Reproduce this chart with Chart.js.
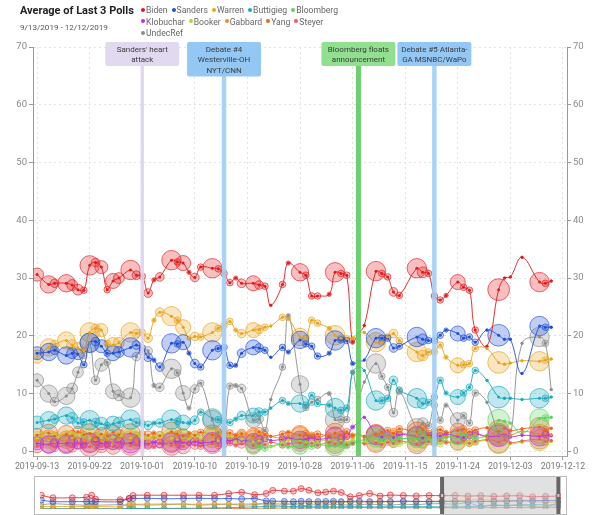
<!DOCTYPE html>
<html>
<head>
<meta charset="utf-8">
<title>Average of Last 3 Polls</title>
<script src="https://cdn.jsdelivr.net/npm/chart.js@4.4.1/dist/chart.umd.min.js"></script>
<style>
  body { margin: 0; background: #fff; font-family: Roboto, 'Noto Sans', sans-serif; }
  #wrap { position: relative; width: 600px; height: 515px; overflow: hidden; }
  #main { position: absolute; left: 0; top: 0; }
  #title { position: absolute; left: 20px; top: 4px; font-size: 11px; line-height: 14px; font-weight: 700; color: #222; }
  #sub { position: absolute; left: 20px; top: 22px; font-size: 8.1px; line-height: 11px; color: #555; }
  #legend { position: absolute; left: 141px; top: 5px; font-size: 8.6px; color: #666; line-height: 11.5px; }
  .item { display: inline-block; margin-right: 4px; white-space: nowrap; }
  .dot { display: inline-block; width: 4px; height: 4px; border-radius: 50%; margin-right: 1px; vertical-align: middle; position: relative; top: -1px; }
  #navBox { position: absolute; left: 34px; top: 476px; width: 531px; height: 37px; border: 1px solid #bbb; }
</style>
</head>
<body>
<div id="wrap">
  <canvas id="main" width="600" height="472"></canvas>
  <div id="title">Average of Last 3 Polls</div>
  <div id="sub">9/13/2019 - 12/12/2019</div>
  <div id="legend"></div>
  <div id="navBox"><canvas id="nav" width="531" height="37"></canvas></div>
</div>
<script>
// poll dates (one point per poll) and poll sample sizes
const pollDates = [
  '2019-09-13','2019-09-15','2019-09-16','2019-09-18','2019-09-19','2019-09-20','2019-09-21','2019-09-22','2019-09-23','2019-09-24',
  '2019-09-25','2019-09-26','2019-09-27','2019-09-29','2019-09-30','2019-10-01','2019-10-02','2019-10-03','2019-10-04','2019-10-06',
  '2019-10-07','2019-10-08','2019-10-09','2019-10-10','2019-10-11','2019-10-13','2019-10-14','2019-10-15','2019-10-16','2019-10-17',
  '2019-10-18','2019-10-20','2019-10-21','2019-10-22','2019-10-23','2019-10-25','2019-10-26','2019-10-28','2019-10-29','2019-10-30',
  '2019-10-31','2019-11-02','2019-11-03','2019-11-04','2019-11-05','2019-11-06','2019-11-07','2019-11-08','2019-11-10','2019-11-11',
  '2019-11-12','2019-11-13','2019-11-14','2019-11-17','2019-11-18','2019-11-19','2019-11-20','2019-11-21','2019-11-22','2019-11-24',
  '2019-11-25','2019-11-26','2019-11-27','2019-11-29','2019-12-01','2019-12-02','2019-12-03','2019-12-05','2019-12-08','2019-12-09',
  '2019-12-10'
];
const pollSize = [
  900,1600,400,1600,620,620,230,2000,400,900,
  230,1200,620,2000,400,230,400,100,400,2000,
  230,1200,100,400,230,2000,230,230,230,100,
  400,1200,400,230,30,230,100,1600,230,230,
  230,100,2000,230,230,100,30,30,2000,230,
  230,400,230,2000,620,230,230,230,100,1200,
  230,230,230,30,2500,30,30,30,2000,230,
  30
];

const biden = [
  30.6,28.9,29.1,29.1,28.8,28.0,27.9,32.2,32.7,31.9,
  28.0,29.5,30.0,31.4,30.5,30.3,27.4,29.7,30.2,33.1,
  32.8,32.6,31.0,30.1,31.9,31.7,31.6,30.8,29.2,30.0,
  29.1,29.1,28.8,28.6,25.3,28.9,32.6,31.0,30.5,26.9,
  26.9,27.2,31.0,30.8,30.5,18.9,20.4,21.8,31.2,30.8,
  30.2,27.6,27.0,31.7,31.0,30.8,26.9,26.2,27.0,29.3,
  28.4,27.9,21.0,18.2,28.0,30.0,30.2,33.6,29.3,29.1,
  29.5
];
const sanders = [
  17.0,17.2,17.5,16.6,17.0,16.8,15.0,18.8,19.0,18.2,
  17.0,17.0,17.2,18.0,18.4,17.9,16.3,15.8,14.6,18.7,
  18.6,18.9,17.0,15.2,14.6,17.5,17.8,18.0,14.9,14.9,
  17.0,18.0,17.9,17.5,16.3,18.0,17.2,19.3,18.6,18.2,
  16.5,17.0,19.2,19.3,19.2,15.2,15.6,15.8,19.6,19.6,
  19.6,17.9,18.2,19.8,19.4,19.2,19.2,20.1,21.0,20.4,
  19.6,19.8,18.9,21.0,20.1,19.4,19.4,13.5,21.7,21.5,
  21.5
];
const warren = [
  16.4,18.0,18.5,19.2,18.4,17.9,17.5,20.6,21.3,21.0,
  18.7,18.4,18.8,20.6,20.4,20.6,19.6,22.7,24.1,23.4,
  22.7,21.5,19.6,19.9,19.8,20.6,21.3,21.8,22.5,21.0,
  20.4,21.0,21.1,21.5,21.7,23.2,23.0,19.8,19.6,22.7,
  22.2,21.3,20.1,19.6,19.5,19.6,20.4,20.6,18.9,18.9,
  19.8,20.4,19.2,17.2,16.6,17.2,17.2,18.4,16.3,14.9,
  15.0,15.2,17.8,17.8,15.4,15.1,15.3,15.7,15.6,15.8,
  16.0
];
const buttigieg = [
  5.0,5.4,5.6,6.2,5.8,4.9,5.1,5.4,5.0,4.8,
  4.5,4.8,5.0,5.5,5.0,4.8,4.5,4.9,4.9,5.5,
  5.2,5.0,4.9,5.4,6.8,5.7,5.5,5.2,5.0,5.6,
  6.2,6.2,6.8,6.8,7.5,8.8,8.3,8.3,8.0,9.7,
  8.3,8.0,7.5,7.1,7.5,13.7,14.6,14.0,8.8,8.8,
  9.2,12.3,10.6,9.2,8.3,8.5,9.4,12.3,10.1,9.4,
  10.1,11.1,14.0,12.3,9.4,9.2,9.2,9.0,9.2,9.2,
  9.4
];
const bloomberg = [
  null,null,null,null,null,null,null,null,null,null,
  null,null,null,null,null,null,null,null,null,null,
  null,null,null,null,null,null,null,null,null,null,
  null,0.8,1.0,0.6,0.9,1.2,0.8,1.0,1.3,0.9,
  1.1,1.0,0.9,1.2,1.0,1.4,1.8,2.0,2.4,2.1,
  2.6,1.9,2.2,2.3,2.8,2.1,1.7,2.2,2.5,2.4,
  2.9,2.6,2.3,2.8,5.4,5.2,4.9,3.1,5.7,5.8,
  5.9
];
const klobuchar = [
  1.4,1.2,1.5,1.3,1.6,1.4,1.2,1.5,1.8,1.4,
  1.3,1.6,1.5,1.4,1.7,1.5,1.3,1.6,1.4,1.5,
  1.8,1.6,1.4,1.7,1.5,1.6,1.9,2.0,1.8,2.1,
  1.9,1.8,2.0,2.2,1.9,2.1,2.3,2.0,2.2,2.4,
  2.1,2.3,2.5,2.2,2.6,4.2,5.0,5.9,2.8,2.5,
  2.7,2.4,2.9,2.6,2.3,2.8,2.5,2.7,3.0,2.6,
  2.4,2.8,3.1,2.6,2.7,3.0,2.5,2.8,2.6,2.9,
  2.7
];
const booker = [
  2.3,2.0,2.5,2.1,2.4,2.2,2.6,2.3,2.0,2.4,
  2.2,2.5,2.1,2.3,2.6,2.2,2.0,2.4,2.7,2.3,
  2.1,2.4,2.2,2.5,2.0,2.3,1.9,2.2,2.4,1.8,
  2.1,1.7,1.9,2.2,0.8,1.6,2.0,1.8,1.5,1.9,
  1.7,2.0,1.6,1.8,1.5,1.9,1.7,1.6,1.8,1.5,
  1.9,1.6,1.4,1.7,1.5,1.8,1.6,1.3,1.7,1.5,
  1.8,1.4,1.6,1.9,1.5,1.7,1.3,1.6,1.8,1.5,
  1.7
];
const gabbard = [
  1.8,2.2,1.6,2.0,1.7,2.3,1.9,1.5,2.1,1.8,
  2.0,1.6,2.2,1.9,1.7,2.1,1.8,2.4,2.0,1.7,
  2.3,1.9,2.6,2.1,1.8,2.4,2.2,2.7,2.3,2.5,
  2.8,2.4,2.2,2.9,2.6,2.3,2.7,3.0,2.5,2.8,
  2.4,2.9,2.6,2.3,2.7,2.5,2.9,2.4,2.8,3.1,
  2.6,2.9,3.2,2.7,3.0,2.5,2.8,3.1,2.6,2.9,
  3.3,2.7,3.0,2.5,2.9,3.2,2.8,3.5,3.0,3.1,
  2.9
];
const yang = [
  2.8,3.2,2.6,3.0,2.7,3.4,2.9,3.1,2.5,3.0,
  2.7,3.3,2.9,3.1,2.6,3.0,2.8,3.2,2.7,3.4,
  3.0,2.6,3.1,2.8,3.3,2.9,2.7,3.0,3.2,2.8,
  3.1,2.7,3.4,2.9,2.6,3.0,3.3,2.8,3.1,2.6,
  3.0,2.7,3.2,2.9,3.4,2.8,3.1,2.6,3.0,3.3,
  3.6,3.2,3.9,3.4,3.7,3.1,3.5,3.8,3.3,3.6,
  3.9,3.4,3.7,4.1,3.5,4.0,3.6,3.9,4.2,3.8,
  4.0
];
const steyer = [
  0.9,1.2,0.7,1.1,0.8,1.3,1.0,0.8,1.2,0.9,
  1.1,0.8,1.3,1.0,1.2,0.9,1.1,0.8,1.3,1.0,
  1.2,0.9,1.4,1.1,0.9,1.3,1.0,1.2,1.5,1.1,
  1.3,1.0,1.4,1.2,1.6,1.1,1.3,1.5,1.2,1.4,
  1.1,1.6,1.3,1.5,1.2,1.4,1.7,1.3,1.5,1.2,
  1.6,1.4,1.8,1.3,1.5,1.7,1.4,1.9,1.6,1.5,
  1.8,1.4,1.7,2.0,1.6,1.9,1.5,1.8,2.1,1.7,
  1.9
];
const undecRef = [
  12.3,10.0,8.6,9.6,10.9,13.7,16.6,18.8,12.3,15.0,
  15.4,10.4,9.7,9.3,16.4,17.3,17.4,11.4,11.1,14.3,
  13.6,10.1,7.5,10.8,11.8,5.4,3.3,4.0,11.3,11.4,
  10.9,5.4,5.6,3.6,9.0,14.6,23.5,11.6,7.6,8.5,
  9.0,10.0,5.5,5.5,5.5,13.7,9.4,12.0,15.2,13.0,
  11.1,6.7,10.4,4.0,4.9,4.5,8.0,5.4,8.0,5.4,
  6.2,4.9,10.1,8.5,3.0,2.5,2.5,18.7,19.8,18.7,
  10.7
];

const candidates = ['Biden','Sanders','Warren','Buttigieg','Bloomberg','Klobuchar','Booker','Gabbard','Yang','Steyer','UndecRef'];
const series = [biden, sanders, warren, buttigieg, bloomberg, klobuchar, booker, gabbard, yang, steyer, undecRef];
const colors = ['#e31a1c','#1f4fd6','#e8a318','#18a9bd','#5dd35d','#b730e6','#b5d335','#f08a1e','#e8661a','#f05a5a','#8c8c8c'];

// events shown as labelled vertical bands
const eventDates = ['2019-10-01','2019-10-15','2019-11-07','2019-11-20'];
const eventLabels = [
  ["Sanders' heart", 'attack'],
  ['Debate #4', 'Westerville-OH', 'NYT/CNN'],
  ['Bloomberg floats', 'announcement'],
  ['Debate #5 Atlanta-', 'GA MSNBC/WaPo']
];
const eventFill = ['#e1d9f0','#93c8f5','#90e090','#93c8f5'];
const eventLine = ['rgba(221,211,238,0.9)','rgba(160,206,245,0.9)','rgba(100,205,100,0.95)','rgba(160,206,245,0.9)'];
const eventWidth = [3.5, 4.5, 5, 4.5];

const xTickDays = [0, 9, 18, 27, 36, 45, 54, 63, 72, 81, 90];
const yTicks = [0, 10, 20, 30, 40, 50, 60, 70];

// navigator (longer history, window = 9/13 .. 12/12)
const navDays = [-310,-301,-286,-275,-271,-268,-249,-242,-239,-228,-215,-200,-188,-176,-165,-155,-145,
  -136,-131,-122,-115,-109,-103,-96,-90,-84,-78,-71,-64,-56,-48,-40,-30,-20,-10,0,10,20,30,40,50,60,70,80,90];
const navBiden = [31.6,25.9,25.9,27.0,31.6,22.5,21.4,24.2,31.0,31.6,31.6,31.6,31.8,31.6,35.5,38.3,33.0,
  35.5,42.8,41.1,41.0,46.8,43.0,37.2,39.0,41.1,38.0,28.2,31.0,35.5,30.0,32.0,31.0,30.0,31.0,30.5,31.0,29.5,30.5,29.0,30.0,30.5,28.0,29.0,29.5];
const navSanders = [20.3,16.9,16.9,17.2,17.5,16.9,16.9,24.2,24.0,24.5,23.5,24.0,24.5,23.8,24.0,23.0,24.0,
  18.6,18.0,17.5,17.0,17.8,17.2,17.0,17.5,17.8,17.0,17.5,18.0,17.0,17.5,17.2,18.0,17.5,17.0,17.0,17.5,16.5,17.0,17.5,18.0,18.5,19.0,19.5,20.0];
const navWarren = [5.6,5.6,5.6,5.6,5.6,5.6,5.6,11.3,11.0,11.3,11.5,11.3,11.0,11.5,11.3,11.5,12.0,
  13.0,13.0,13.5,13.0,13.5,14.0,13.5,14.0,15.0,15.5,15.8,16.0,15.8,16.0,16.5,17.0,17.0,18.0,18.0,19.0,20.5,21.0,20.5,19.5,19.5,17.5,15.5,16.0];
const navButtigieg = [0.5,0.5,0.5,0.5,0.5,0.5,0.5,1.0,1.2,1.0,1.5,1.5,2.0,2.5,3.0,4.0,5.0,
  6.0,6.5,6.0,5.5,6.0,5.5,5.0,5.5,5.0,5.0,5.5,5.0,4.8,5.0,5.2,5.0,5.5,5.2,5.0,5.0,5.5,6.5,8.0,8.5,9.0,10.0,9.4,9.2];
const navUndec = [10,12,10,9,12,9,10,9,10,9,10,11,9,10,11,9,10,
  12,9,10,11,8,9,10,9,11,10,9,10,11,10,9,11,10,12,12,11,14,6,10,7,10,6,4,15];
const navYang = [0.5,0.5,0.5,0.5,0.5,0.5,0.5,1.0,1.0,1.0,1.2,1.0,1.3,1.2,1.5,1.4,1.6,
  1.8,2.0,2.2,2.5,2.3,2.6,2.8,2.5,2.9,3.0,2.8,3.1,3.0,2.8,3.2,3.0,2.9,3.1,3.0,3.1,2.8,3.0,3.2,3.4,3.6,3.8,4.0,3.9];

const BASE = Date.parse('2019-09-13T00:00:00Z');
const dayOf = s => (Date.parse(s + 'T00:00:00Z') - BASE) / 864e5;
const dayLabel = v => new Date(BASE + v * 864e5).toISOString().slice(0, 10);
const pollDays = pollDates.map(dayOf);
const pollRadius = pollSize.map(n => Math.sqrt(n) / 4.6);

function rgba(hex, a) {
  const n = parseInt(hex.slice(1), 16);
  return `rgba(${n >> 16},${(n >> 8) & 255},${n & 255},${a})`;
}

// legend, 5 + 5 + 1 per row
document.getElementById('legend').innerHTML = candidates.map((c, i) =>
  `<span class="item"><span class="dot" style="background:${colors[i]}"></span>${c}</span>` +
  (i === 4 || i === 9 ? '<br>' : '')).join('');

const FONT = "Roboto, 'Noto Sans', sans-serif";

// centre dots, event bands and labels
const overlayPlugin = {
  id: 'overlay',
  afterDatasetsDraw(chart) {
    const ctx = chart.ctx;
    chart.data.datasets.forEach((ds, i) => {
      const meta = chart.getDatasetMeta(i);
      ctx.save();
      ctx.fillStyle = colors[i];
      meta.data.forEach((pt, j) => {
        if (ds.data[j].y == null) return;
        ctx.beginPath();
        ctx.arc(pt.x, pt.y, 1.5, 0, Math.PI * 2);
        ctx.fill();
      });
      ctx.restore();
    });
    const x = chart.scales.x;
    const bottom = chart.chartArea.bottom;
    eventDates.forEach((d, i) => {
      const px = x.getPixelForValue(dayOf(d));
      ctx.save();
      ctx.strokeStyle = eventLine[i];
      ctx.lineWidth = eventWidth[i];
      ctx.beginPath();
      ctx.moveTo(px, 60);
      ctx.lineTo(px, bottom);
      ctx.stroke();
      ctx.restore();
    });
  },
  afterDraw(chart) {
    const ctx = chart.ctx;
    const x = chart.scales.x;
    eventDates.forEach((d, i) => {
      const px = x.getPixelForValue(dayOf(d));
      const lines = eventLabels[i];
      const w = 74, h = 10.5 * lines.length + 3, top = 42;
      ctx.save();
      ctx.fillStyle = eventFill[i];
      ctx.beginPath();
      ctx.roundRect(px - w / 2, top, w, h, 2);
      ctx.fill();
      ctx.fillStyle = '#3a3a3a';
      ctx.font = `8px ${FONT}`;
      ctx.textAlign = 'center';
      ctx.textBaseline = 'middle';
      lines.forEach((t, j) => ctx.fillText(t, px, top + 7.5 + j * 10.5));
      ctx.restore();
    });
  }
};

const datasets = candidates.map((c, i) => ({
  label: c,
  data: series[i].map((v, j) => ({ x: pollDays[j], y: v })),
  borderColor: rgba(colors[i], 0.9),
  borderWidth: 1,
  tension: 0.4,
  pointRadius: pollRadius,
  pointBackgroundColor: rgba(colors[i], 0.28),
  pointBorderColor: rgba(colors[i], 0.65),
  pointBorderWidth: 1
}));

const yAxis = (pos) => ({
  position: pos,
  min: -0.8,
  max: 70,
  afterBuildTicks: s => { s.ticks = yTicks.map(v => ({ value: v })); },
  afterFit: s => { s.width = 33; },
  ticks: { color: '#888', font: { family: FONT, size: 9.5 }, padding: 2 },
  grid: { color: '#e2e2e2', drawOnChartArea: pos === 'left', tickLength: 4, tickColor: '#999' },
  border: { display: true, color: '#999', dash: [2, 3] }
});

new Chart(document.getElementById('main'), {
  type: 'line',
  data: { datasets },
  options: {
    responsive: false,
    animation: false,
    layout: { padding: { top: 47 } },
    plugins: { legend: { display: false }, tooltip: { enabled: false } },
    scales: {
      x: {
        type: 'linear',
        min: -0.7,
        max: 90.7,
        afterBuildTicks: s => { s.ticks = xTickDays.map(v => ({ value: v })); },
        afterFit: s => { s.height = 16; },
        ticks: { callback: v => dayLabel(v), color: '#777', font: { family: FONT, size: 8.8 }, maxRotation: 0, autoSkip: false, padding: 2 },
        grid: { color: '#e2e2e2', tickLength: 4, tickColor: '#999' },
        border: { display: true, color: '#aaa', dash: [2, 3] }
      },
      y: yAxis('left'),
      y2: yAxis('right')
    }
  },
  plugins: [overlayPlugin]
});

// navigator
const navSeries = [navBiden, navSanders, navWarren, navButtigieg, navUndec, navYang];
const navColors = [colors[0], colors[1], colors[2], colors[3], colors[10], colors[8]];
const windowPlugin = {
  id: 'window',
  afterDraw(chart) {
    const ctx = chart.ctx;
    const x = chart.scales.x;
    const a = x.getPixelForValue(0), b = x.getPixelForValue(90);
    const h = chart.height;
    ctx.save();
    ctx.fillStyle = 'rgba(200,200,200,0.55)';
    ctx.fillRect(a, 0, b - a, h);
    ctx.fillStyle = '#666';
    ctx.fillRect(a - 2, 0, 4, h);
    ctx.fillRect(b - 2, 0, 4, h);
    ctx.fillStyle = '#ccc';
    ctx.fillRect(a - 1, h / 2 - 1.5, 2, 3);
    ctx.fillRect(b - 1, h / 2 - 1.5, 2, 3);
    ctx.restore();
  }
};

new Chart(document.getElementById('nav'), {
  type: 'line',
  data: {
    datasets: navSeries.map((s, i) => ({
      data: s.map((v, j) => ({ x: navDays[j], y: v })),
      borderColor: rgba(navColors[i], 0.8),
      borderWidth: 1,
      tension: 0.3,
      pointRadius: i < 2 ? 3 : 2.5,
      pointBackgroundColor: rgba(navColors[i], 0.25),
      pointBorderColor: rgba(navColors[i], 0.6),
      pointBorderWidth: 1
    }))
  },
  options: {
    responsive: false,
    animation: false,
    layout: { padding: 0 },
    plugins: { legend: { display: false }, tooltip: { enabled: false } },
    scales: {
      x: { type: 'linear', min: -311, max: 92, display: false },
      y: { min: 0, max: 62, display: false }
    }
  },
  plugins: [windowPlugin]
});
</script>
</body>
</html>
